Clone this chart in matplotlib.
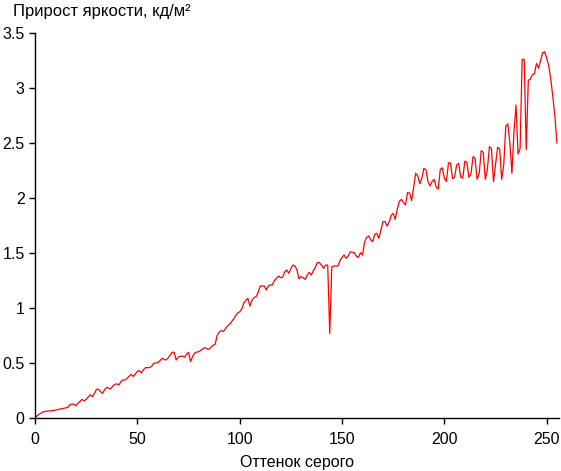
import numpy as np
import matplotlib
matplotlib.use("Agg")
import matplotlib.pyplot as plt

plt.rcParams['font.family'] = ['Liberation Sans', 'DejaVu Sans']

# прирост яркости для каждого оттенка серого (0..255)
shade = np.arange(256)
gain = [
    0.0, 0.02, 0.035, 0.045, 0.055, 0.06, 0.062, 0.064, 0.065, 0.068,
    0.072, 0.076, 0.08, 0.084, 0.088, 0.092, 0.096, 0.12, 0.127, 0.126,
    0.112, 0.135, 0.15, 0.17, 0.155, 0.17, 0.19, 0.21, 0.194, 0.222,
    0.26, 0.262, 0.24, 0.224, 0.258, 0.278, 0.272, 0.266, 0.29, 0.306,
    0.31, 0.3, 0.332, 0.346, 0.345, 0.36, 0.38, 0.397, 0.378, 0.4,
    0.425, 0.43, 0.41, 0.44, 0.458, 0.458, 0.458, 0.47, 0.497, 0.5,
    0.503, 0.52, 0.542, 0.535, 0.527, 0.545, 0.57, 0.597, 0.597, 0.527,
    0.555, 0.56, 0.564, 0.552, 0.58, 0.597, 0.512, 0.56, 0.59, 0.6,
    0.603, 0.615, 0.627, 0.64, 0.63, 0.625, 0.645, 0.66, 0.67, 0.75,
    0.78, 0.794, 0.787, 0.81, 0.836, 0.85, 0.875, 0.9, 0.93, 0.955,
    0.965, 0.99, 1.045, 1.07, 1.088, 1.018, 1.07, 1.095, 1.103, 1.14,
    1.2, 1.2, 1.2, 1.164, 1.2, 1.208, 1.212, 1.25, 1.272, 1.29,
    1.275, 1.28, 1.33, 1.345, 1.315, 1.36, 1.39, 1.383, 1.345, 1.265,
    1.285, 1.275, 1.26, 1.3, 1.324, 1.3, 1.34, 1.37, 1.415, 1.41,
    1.39, 1.36, 1.39, 1.39, 0.77, 1.375, 1.382, 1.382, 1.382, 1.43,
    1.46, 1.482, 1.452, 1.473, 1.51, 1.506, 1.503, 1.47, 1.461, 1.503,
    1.48, 1.6, 1.64, 1.655, 1.62, 1.603, 1.67, 1.68, 1.633, 1.709,
    1.785, 1.785, 1.745, 1.78, 1.84, 1.861, 1.806, 1.9, 1.97, 1.988,
    1.96, 1.936, 2.05, 2.045, 1.976, 2.103, 2.225, 2.2, 2.13, 2.18,
    2.27, 2.255, 2.15, 2.109, 2.15, 2.17, 2.1, 2.08, 2.26, 2.275,
    2.18, 2.15, 2.32, 2.318, 2.175, 2.19, 2.3, 2.315, 2.19, 2.18,
    2.335, 2.325, 2.188, 2.22, 2.376, 2.36, 2.17, 2.22, 2.43, 2.415,
    2.17, 2.26, 2.467, 2.45, 2.148, 2.3, 2.46, 2.45, 2.17, 2.3,
    2.65, 2.675, 2.5, 2.224, 2.6, 2.845, 2.4, 2.45, 3.26, 3.26,
    2.44, 3.07, 3.08, 3.12, 3.13, 3.224, 3.18, 3.25, 3.32, 3.33,
    3.27, 3.2, 3.08, 2.92, 2.74, 2.5,
]

xticks = [0, 50, 100, 150, 200, 250]
yticks = [0, 0.5, 1, 1.5, 2, 2.5, 3, 3.5]
ytick_labels = ["0", "0.5", "1", "1.5", "2", "2.5", "3", "3.5"]

fig = plt.figure(figsize=(5.61, 4.71), dpi=100)
ax = fig.add_axes([35 / 561, 1 - 418 / 471, 524 / 561, 385 / 471])

ax.plot(shade, gain, color="#ff0000", lw=0.9)

ax.set_xlim(0, 256)
ax.set_ylim(0, 3.5)
ax.set_xticks(xticks)
ax.set_yticks(yticks)
ax.set_yticklabels(ytick_labels)
ax.spines["top"].set_visible(False)
ax.spines["right"].set_visible(False)
for s in ("left", "bottom"):
    ax.spines[s].set_linewidth(1.0)
ax.tick_params(direction="out", length=4, width=1, labelsize=11.5)
ax.tick_params(axis="y", pad=3.5)
ax.tick_params(axis="x", pad=6)
ax.set_xlabel("Оттенок серого", fontsize=11.5, labelpad=6)

fig.text(13 / 561, 1 - 4 / 471, "Прирост яркости, кд/м²", fontsize=12, va="top", ha="left")

fig.savefig("out.png", dpi=100)
